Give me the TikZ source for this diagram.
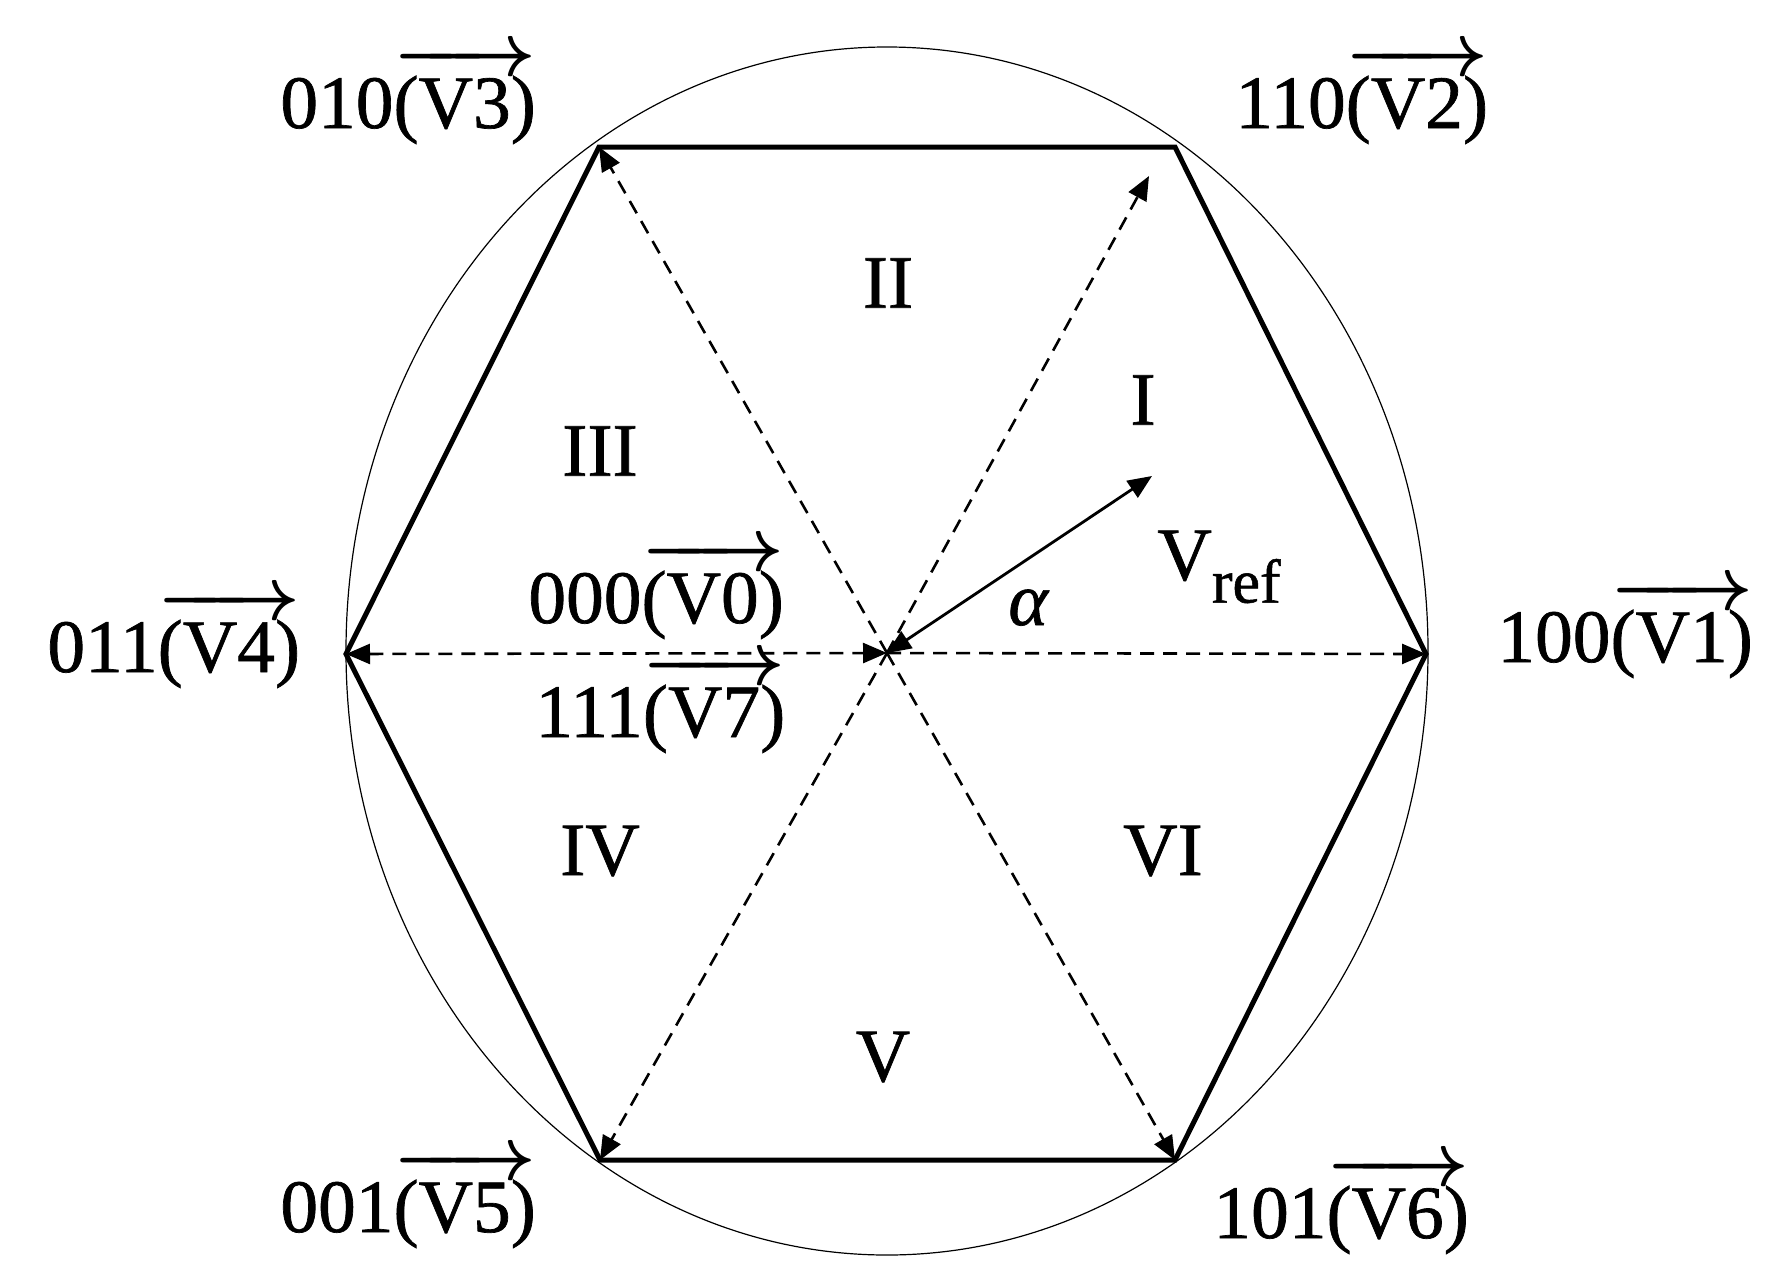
\RequirePackage{fix-cm}
\documentclass[tikz,border=0pt]{standalone}
\usepackage{amsmath,amssymb}
\usepackage{fontspec}
\setmainfont{Liberation Serif}
\newfontfamily\lblfamily{Liberation Serif}[FakeBold=0.9]
\usepackage{tikz}
\usetikzlibrary{arrows.meta}

\newcommand{\lblfont}{\lblfamily\fontsize{37.7}{45}\selectfont}
\newcommand{\vlab}[2]{#1{\boldmath$\overrightarrow{\mbox{\rule{0pt}{0.64em}(#2)}}$}}

\begin{document}
\begin{tikzpicture}[x=0.5pt,y=-0.5pt,
    hexline/.style={line width=2.5pt, line join=miter},
    spoke/.style={dashed, dash pattern=on 7pt off 4.5pt, line width=1.3pt, -{Triangle[length=12pt,width=10pt]}},
    refvec/.style={line width=1.4pt, {Triangle[length=12pt,width=10pt]}-{Triangle[length=12pt,width=10pt]}},
    lbl/.style={inner sep=0pt, font=\lblfont},
    sector/.style={inner sep=0pt, font=\lblfont}]
  \useasboundingbox (0,0) rectangle (1792,1285);
  % vertices
  \coordinate (o) at (887,653);
  \coordinate (v1) at (1426,654);
  \coordinate (v2) at (1175,147);
  \coordinate (v3) at (599,147);
  \coordinate (v4) at (346,654);
  \coordinate (v5) at (600,1160);
  \coordinate (v6) at (1175,1160);
  \coordinate (v2tip) at (1149,176);
  \coordinate (reftip) at (1152,476);
  \draw[line width=0.6pt] (887,651) ellipse [x radius=541, y radius=604];
  \draw[hexline] (v1) -- (v2) -- (v3) -- (v4) -- (v5) -- (v6) -- cycle;
  % spokes
  \draw[spoke] (o) -- (v1);
  \draw[spoke] (o) -- (v2tip);
  \draw[spoke] (o) -- (v3);
  \draw[spoke, {Triangle[length=12pt,width=10pt]}-{Triangle[length=12pt,width=10pt]}] (v4) -- (o);
  \draw[spoke] (o) -- (v5);
  \draw[spoke] (o) -- (v6);
  \draw[refvec] (o) -- (reftip);
  % vector labels
  \node[lbl, anchor=base west] (l3) at (280,128) {\vlab{010}{V3}};
  \node[lbl, anchor=base west] (l2) at (1235,128) {\vlab{110}{V2}};
  \node[lbl, anchor=base west] (l1) at (1497,662) {\vlab{100}{V1}};
  \node[lbl, anchor=base west] (l4) at (47,672) {\vlab{011}{V4}};
  \node[lbl, anchor=base west] (l5) at (280,1232) {\vlab{001}{V5}};
  \node[lbl, anchor=base west] (l6) at (1213,1238) {\vlab{101}{V6}};
  \node[lbl, anchor=base west] (l0) at (528,623) {\vlab{000}{V0}};
  \node[lbl, anchor=base west] (l7) at (535,737) {\vlab{111}{V7}};
  % sectors
  \node[sector] (s1) at (1143,400) {I};
  \node[sector] (s2) at (888,283) {II};
  \node[sector] (s3) at (600,451) {III};
  \node[sector] (s4) at (600,851) {IV};
  \node[sector] (s5) at (883,1057) {V};
  \node[sector] (s6) at (1163,851) {VI};
  \node[lbl, anchor=base west] (vref) at (1157,580) {V\raisebox{-0.3em}{\fontsize{31}{36}\selectfont ref}};
  \node[lbl, anchor=base west] (alpha) at (1008,625) {\itshape α};
\end{tikzpicture}
\end{document}
